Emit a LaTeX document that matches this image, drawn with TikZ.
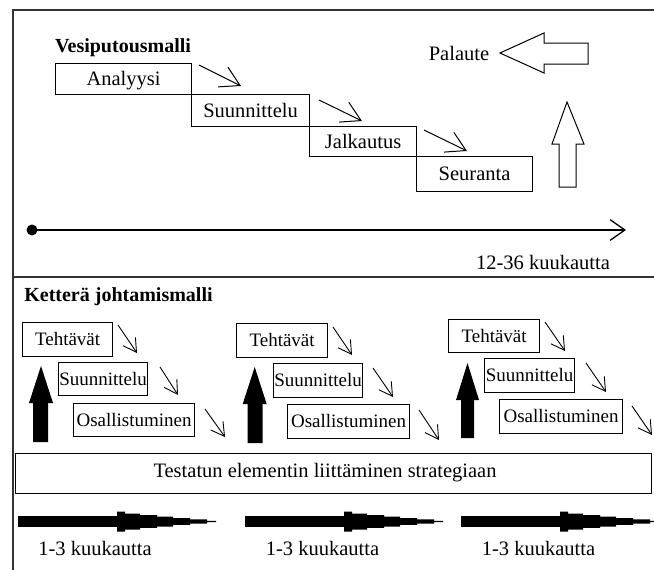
\documentclass[tikz,border=0pt]{standalone}
\usepackage{fontspec}
\setmainfont{Liberation Serif}
\usetikzlibrary{arrows.meta}

\begin{document}
\begin{tikzpicture}[x=1pt,y=-1pt,
  frameline/.style={draw=black!80, line width=1.6pt},
  phase/.style={draw=black, line width=1.2pt, inner sep=0pt, anchor=north west,
    font=\fontsize{20.5}{24}\selectfont, text height=13.6pt, text depth=0pt},
  task/.style={draw=black, line width=1.2pt, inner sep=0pt, anchor=north west,
    font=\fontsize{19}{22}\selectfont, text height=12.6pt, text depth=0pt},
  heading/.style={font=\bfseries\fontsize{20}{24}\selectfont, inner sep=0pt,
    text height=13.3pt, text depth=0pt},
  plain/.style={font=\fontsize{20.5}{24}\selectfont, inner sep=0pt,
    text height=13.6pt, text depth=0pt},
  stepflow/.style={line width=1pt, -{Straight Barb[angle=60:22pt]}},
  subflow/.style={line width=0.9pt, -{Straight Barb[angle=60:15pt]}},
  hollowarrow/.style={draw=black, line width=1pt, line join=miter},
  taperarrow/.pic={
    \fill (0,-5.3) -- (99,-5.3) -- (99,-10) -- (107,-10) -- (107,-8) -- (122,-8)
      -- (122,-6.3) -- (139,-6.3) -- (139,-5) -- (155,-5) -- (155,-3.3) -- (172,-3.3)
      -- (172,-2.2) -- (189,-2.2) -- (189,-0.6) -- (198,-0.6) -- (198,0.6) -- (189,0.6)
      -- (189,2.2) -- (172,2.2) -- (172,3.3) -- (155,3.3) -- (155,5) -- (139,5)
      -- (139,6.3) -- (122,6.3) -- (122,8) -- (107,8) -- (107,10) -- (99,10)
      -- (99,5.3) -- (0,5.3) -- cycle;
  }
]
\useasboundingbox (0,0) rectangle (654,570);
\clip (0,0) rectangle (654,570);

% outer frame and section divider
\draw[frameline] (12.7,580) -- (12.7,10) -- (670,10);
\draw[frameline] (12.7,276.7) -- (670,276.7);

% ---------------- waterfall model ----------------
\node[heading] (wf) at (123,45.5) {Vesiputousmalli};

\node[phase, minimum width=136pt, minimum height=31pt] (ana) at (55,63) {Analyysi};
\node[phase, minimum width=118pt, minimum height=32pt] (suu) at (191,94) {Suunnittelu};
\node[phase, minimum width=107pt, minimum height=30pt] (jal) at (309,126) {Jalkautus};
\node[phase, minimum width=116pt, minimum height=35pt] (seu) at (416,156) {Seuranta};

\coordinate (w1a) at (199,65);  \coordinate (w1b) at (241,86);
\coordinate (w2a) at (319,100); \coordinate (w2b) at (362,121);
\coordinate (w3a) at (424,130); \coordinate (w3b) at (467,151);
\draw[stepflow] (w1a) -- (w1b);
\draw[stepflow] (w2a) -- (w2b);
\draw[stepflow] (w3a) -- (w3b);

% feedback arrows
\node[plain] (pal) at (459,53.3) {Palaute};
\draw[hollowarrow] (500,53) -- (544,33) -- (544,43) -- (588,43) -- (588,64)
  -- (544,64) -- (544,73) -- cycle;
\draw[hollowarrow] (567,102) -- (584,144) -- (576,144) -- (576,187) -- (559,187)
  -- (559,144) -- (552,144) -- cycle;

% time line
\coordinate (t0) at (32,230);
\coordinate (t1) at (626,230);
\fill (t0) circle (5.5pt);
\draw[line width=1.3pt, -{Straight Barb[angle=70:18pt]}] (t0) -- (t1);
\node[plain] (long) at (543,263) {12-36 kuukautta};

% ---------------- agile model ----------------
\node[heading] (ag) at (118.5,295) {Ketterä johtamismalli};

% cycle 1
\node[task, minimum width=90pt,  minimum height=34pt] (teh1) at (22,322)  {Tehtävät};
\node[task, minimum width=89pt,  minimum height=33pt] (sun1) at (58,362)  {Suunnittelu};
\node[task, minimum width=121pt, minimum height=33pt] (osa1) at (73,403)  {Osallistuminen};
% cycle 2
\node[task, minimum width=91pt,  minimum height=34pt] (teh2) at (236,323) {Tehtävät};
\node[task, minimum width=89pt,  minimum height=34pt] (sun2) at (273,363) {Suunnittelu};
\node[task, minimum width=122pt, minimum height=34pt] (osa2) at (287,404) {Osallistuminen};
% cycle 3
\node[task, minimum width=91pt,  minimum height=33pt] (teh3) at (448,319) {Tehtävät};
\node[task, minimum width=90pt,  minimum height=34pt] (sun3) at (484,358) {Suunnittelu};
\node[task, minimum width=123pt, minimum height=34pt] (osa3) at (499,399) {Osallistuminen};

\coordinate (a1a) at (118,325); \coordinate (a1b) at (137,353);
\coordinate (a2a) at (160,367); \coordinate (a2b) at (178,395);
\coordinate (a3a) at (205,409); \coordinate (a3b) at (225,437);
\coordinate (b1a) at (333,327); \coordinate (b1b) at (352,355);
\coordinate (b2a) at (373,368); \coordinate (b2b) at (393,397);
\coordinate (b3a) at (419,410); \coordinate (b3b) at (439,440);
\coordinate (c1a) at (545,322); \coordinate (c1b) at (565,351);
\coordinate (c2a) at (586,363); \coordinate (c2b) at (606,392);
\coordinate (c3a) at (632,406); \coordinate (c3b) at (652,435);
\foreach \p in {a1,a2,a3,b1,b2,b3,c1,c2,c3}
  \draw[subflow] (\p a) -- (\p b);

% solid upward arrows
\fill (41,366) -- (53,403) -- (48,403) -- (48,442) -- (33,442) -- (33,403)
  -- (29,403) -- cycle;
\fill (254.7,367) -- (266.7,404) -- (262.5,404) -- (262.5,443) -- (247.5,443)
  -- (247.5,404) -- (242.7,404) -- cycle;
\fill (467.5,363) -- (479,400) -- (474,400) -- (474,438) -- (461,438)
  -- (461,400) -- (456,400) -- cycle;

% integration bar
\node[draw=black, line width=1.2pt, anchor=north west, minimum width=636pt,
  minimum height=40pt, inner sep=0pt] (bar) at (15,453) {};
\node[plain] (barlabel) at (325,470.3) {Testatun elementin liittäminen strategiaan};

% iteration lengths
\pic at (18,521.5) {taperarrow};
\pic at (245,521.5) {taperarrow};
\pic at (461,521.5) {taperarrow};
\node[plain] (it1) at (95,549) {1-3 kuukautta};
\node[plain] (it2) at (322.5,549) {1-3 kuukautta};
\node[plain] (it3) at (538.5,549) {1-3 kuukautta};
\end{tikzpicture}
\end{document}
